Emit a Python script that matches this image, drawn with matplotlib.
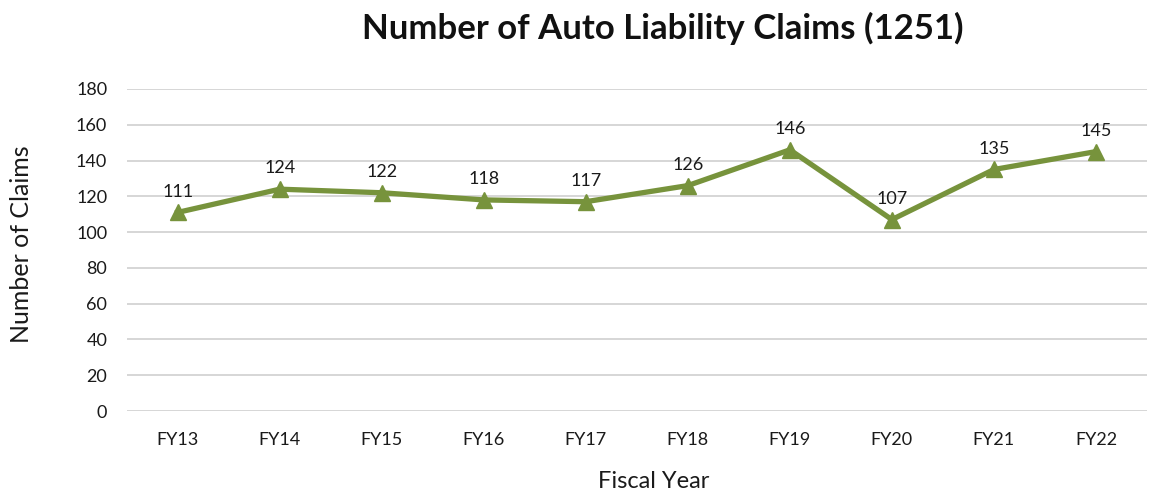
import matplotlib.pyplot as plt

plt.rcParams['font.family'] = ['Lato', 'DejaVu Sans']

years = ["FY13", "FY14", "FY15", "FY16", "FY17", "FY18", "FY19", "FY20", "FY21", "FY22"]
claims = [111, 124, 122, 118, 117, 126, 146, 107, 135, 145]
y_ticks = [0, 20, 40, 60, 80, 100, 120, 140, 160, 180]

line_color = "#77933C"
text_color = "#1a1a1a"

fig = plt.figure(figsize=(11.51, 4.93), dpi=100)
ax = fig.add_axes([0.110, 0.1663, 0.8865, 0.6532])

x = list(range(len(years)))
ax.plot(x, claims, color=line_color, linewidth=3.8, marker="^", markersize=12,
        zorder=3)

# data labels above each point
for xi, val in zip(x, claims):
    ax.annotate(str(val), (xi, val), xytext=(0, 15), textcoords="offset points",
                ha="center", va="center", fontsize=13, color=text_color)

ax.set_xlim(-0.5, len(years) - 0.5)
ax.set_ylim(0, 180)
ax.set_yticks(y_ticks)
ax.set_xticks(x)
ax.set_xticklabels(years)
ax.tick_params(axis="both", length=0, labelsize=13, colors=text_color)
ax.tick_params(axis="x", pad=15)
ax.tick_params(axis="y", pad=14)
ax.grid(axis="y", color="#D0D0D0", linewidth=1.2)
ax.set_axisbelow(True)
for spine in ax.spines.values():
    spine.set_visible(False)

fig.text(0.568, 0.024, "Fiscal Year", ha="center", va="center",
         fontsize=17, color=text_color)
fig.text(0.019, 0.505, "Number of Claims", ha="center", va="center",
         rotation=90, fontsize=18, color=text_color)

fig.text(0.576, 0.943, "Number of Auto Liability Claims (1251)", ha="center",
         va="center", fontsize=25, fontweight="bold", color="#111111")

fig.savefig("out.png", dpi=100)
